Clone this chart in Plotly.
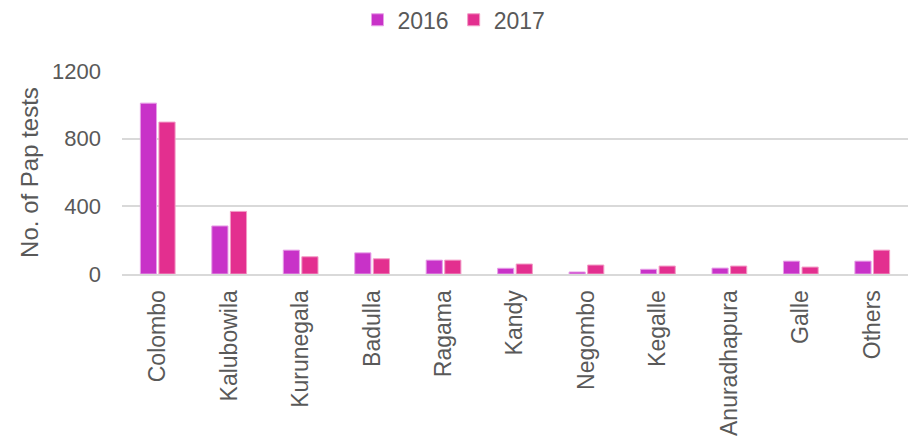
import plotly.graph_objects as go

# Pap tests by centre
centres = ["Colombo", "Kalubowila", "Kurunegala", "Badulla", "Ragama", "Kandy",
           "Negombo", "Kegalle", "Anuradhapura", "Galle", "Others"]
tests_2016 = [1010, 284, 141, 125, 82, 34, 12, 28, 35, 76, 76]
tests_2017 = [898, 370, 102, 90, 82, 59, 53, 47, 47, 41, 141]
y_ticks = [0, 400, 800, 1200]

FONT = "Liberation Sans, Arial, sans-serif"
GREY = "#595959"

fig = go.Figure()
fig.add_trace(go.Bar(name="2016", x=centres, y=tests_2016,
                     marker=dict(color="#C832C8", line=dict(color="#E7A0E7", width=1))))
fig.add_trace(go.Bar(name="2017", x=centres, y=tests_2017,
                     marker=dict(color="#E32F8F", line=dict(color="#F29CC6", width=1))))

fig.update_layout(
    width=908, height=441,
    margin=dict(l=122, r=0, t=71, b=167),
    paper_bgcolor="white", plot_bgcolor="white",
    font=dict(family=FONT, color=GREY, size=22),
    barmode="group", bargap=0.48, bargroupgap=0.13,
    legend=dict(orientation="h", x=0.5, xanchor="center", xref="container",
                y=0.955, yanchor="middle", yref="container",
                font=dict(size=23, color=GREY), itemwidth=30,
                traceorder="normal"),
    showlegend=True,
)
fig.update_yaxes(
    range=[0, 1200], tickvals=y_ticks, showgrid=True, gridcolor="#D9D9D9",
    gridwidth=2, zeroline=False, showline=False, ticks="", automargin=False,
    tickfont=dict(size=22, color=GREY), ticklabelstandoff=20,
    title=dict(text="No. of Pap tests", font=dict(size=24, color=GREY), standoff=6),
)
fig.update_xaxes(
    tickangle=-90, showline=True, linecolor="#D9D9D9", linewidth=2,
    ticks="", automargin=False,
    tickfont=dict(size=23, color=GREY), ticklabelstandoff=5,
)

fig.write_html("out.html")
